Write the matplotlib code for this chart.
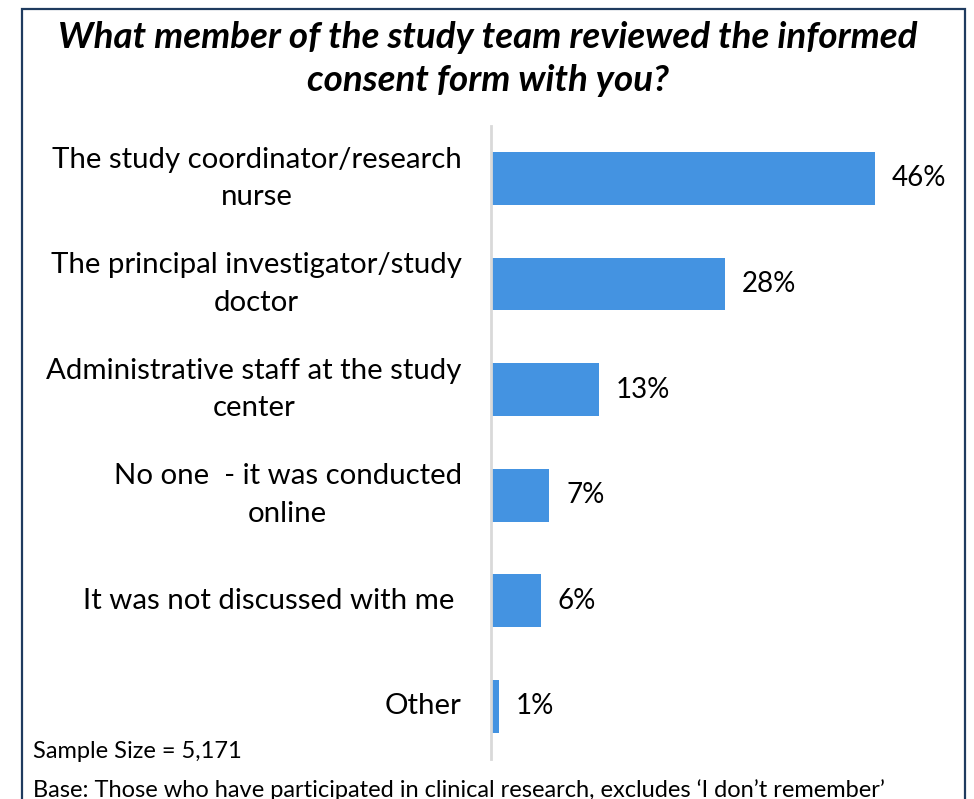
import matplotlib
matplotlib.use("Agg")
import matplotlib.pyplot as plt
from matplotlib.patches import Rectangle

plt.rcParams['font.family'] = ['Lato', 'DejaVu Sans']

categories = [
    "The study coordinator/research\nnurse",
    "The principal investigator/study\ndoctor",
    "Administrative staff at the study\ncenter",
    "No one  - it was conducted\nonline",
    "It was not discussed with me ",
    "Other",
]
values = [46, 28, 13, 7, 6, 1]
value_labels = ["46%", "28%", "13%", "7%", "6%", "1%"]

title = "What member of the study team reviewed the informed\nconsent form with you?"
sample_note = "Sample Size = 5,171"
base_note = "Base: Those who have participated in clinical research, excludes \u2018I don\u2019t remember\u2019"

W, H = 974, 799
fig = plt.figure(figsize=(W / 100, H / 100), dpi=100)
fig.patch.set_facecolor("white")

# axes placed in pixel terms: left edge at the vertical axis line
left, right, top, bottom = 491, 950, 125.7, 759
ax = fig.add_axes([left / W, 1 - bottom / H, (right - left) / W, (bottom - top) / H])

y = list(range(len(categories)))
ax.barh(y, values, height=0.5, color="#4493E1", zorder=2)
ax.set_ylim(len(categories) - 0.5, -0.5)
ax.set_xlim(0, 55)

for yi, v, lab in zip(y, values, value_labels):
    ax.text(v + 2.0, yi, lab, va="center", ha="left", fontsize=20, color="black")

ax.set_yticks(y)
ax.set_yticklabels(categories, fontsize=21.2, multialignment="center", linespacing=1.55)
for lab in ax.get_yticklabels():
    lab.set_verticalalignment("center")
ax.tick_params(axis="y", length=0, pad=21)
ax.set_xticks([])
for side in ["top", "right", "bottom"]:
    ax.spines[side].set_visible(False)
ax.spines["left"].set_color("#D9D9D9")
ax.spines["left"].set_linewidth(2)

fig.text(488 / W, 1 - 59 / H, title, ha="center", va="center", fontsize=26.5,
         fontweight="bold", fontstyle="italic", linespacing=1.37)

fig.text(33 / W, 1 - 752 / H, sample_note, ha="left", va="center", fontsize=17)
fig.text(33 / W, 1 - 790 / H, base_note, ha="left", va="center", fontsize=17)

# outer frame, open at the bottom edge of the image
fig.patches.append(Rectangle((22 / W, -0.05), (965 - 22) / W, 1.05 - 9 / H,
                             transform=fig.transFigure, fill=False,
                             edgecolor="#1F3B5F", linewidth=1.6))

fig.savefig("out.png", dpi=100, facecolor="white")
